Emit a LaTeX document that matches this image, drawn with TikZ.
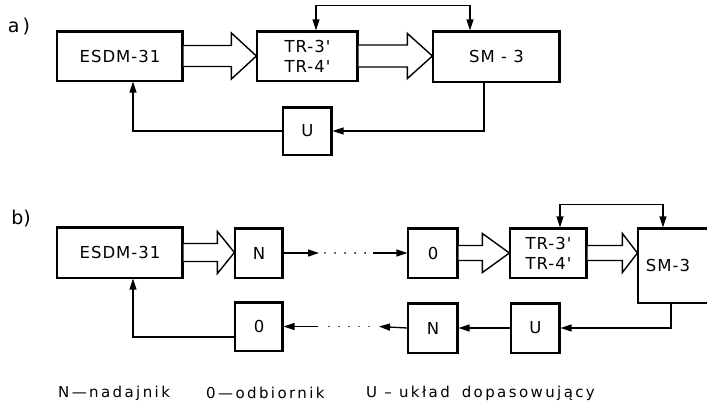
\documentclass[tikz,border=0pt]{standalone}
\usepackage{fontspec}
\setmainfont{DejaVu Sans}
\newfontfamily\boxfont[LetterSpace=6]{DejaVu Sans}
\newfontfamily\legfont[LetterSpace=16]{DejaVu Sans}
\usetikzlibrary{arrows.meta,calc}

\tikzset{
  blk/.style={draw, line width=1.2pt, fill=white, inner sep=0pt, align=center,
    font=\boxfont\fontsize{16.5}{20}\selectfont,
    path picture={\draw[line width=4.2pt]
      (path picture bounding box.north west) -- (path picture bounding box.north east)
      -- (path picture bounding box.south east);}},
  tip/.tip={Triangle[length=11pt,width=7pt]},
  link/.style={line width=1.3pt, -tip},
  twoway/.style={line width=1.3pt, tip-tip},
  dots/.style={line width=1.9pt, line cap=round, dash pattern=on 0.01pt off 10pt},
  bus/.style={line width=1.4pt, fill=white, line join=miter},
  legend/.style={inner sep=0pt, anchor=west, font=\legfont\fontsize{15}{17}\selectfont},
  tag/.style={inner sep=0pt, font=\fontsize{19}{22}\selectfont},
}

% wide (bus) arrow: from, to, shaft half-height, head half-height, head length
\newcommand\busarrow[5]{%
  \draw[bus] let \p1=(#1.east), \p2=(#2.west) in
    (\x1,\y1+#3) -- (\x2-#5,\y1+#3) -- (\x2-#5,\y1+#4) -- (\x2,\y1)
    -- (\x2-#5,\y1-#4) -- (\x2-#5,\y1-#3) -- (\x1,\y1-#3);}

\begin{document}
\begin{tikzpicture}[x=1pt,y=-1pt]
\clip (0,0) rectangle (707,407);
\fill[white] (0,0) rectangle (707,407);

% ---------------- a) ----------------
\node[tag] (la) at (19,27) {a\,)};
\node[blk, minimum width=126, minimum height=50] (esdmA) at (120,56) {ESDM-31};
\node[blk, minimum width=101, minimum height=50] (trA) at (307.5,56) {TR-3'\\TR-4'};
\node[blk, minimum width=127, minimum height=51] (smA) at (496.5,56.5) {SM - 3};
\node[blk, minimum width=49, minimum height=48] (uA) at (307.5,131) {U};

\busarrow{esdmA}{trA}{10.5}{23}{25}
\busarrow{trA}{smA}{11}{22.5}{25}

\draw[twoway] ($(trA.north)+(8.5,0)$) -- ++(0,-25) -| ($(smA.north)+(-26.5,0)$);
\draw[link] ($(smA.south)+(-12.5,0)$) |- (uA.east);
\draw[link] (uA.west) -| ($(esdmA.south)+(13,0)$);

% ---------------- b) ----------------
\node[tag] (lb) at (21,219) {b)};
\node[blk, minimum width=126, minimum height=51] (esdmB) at (120,252.5) {ESDM-31};
\node[blk, minimum width=48, minimum height=50] (nB1) at (259,253) {N};
\node[blk, minimum width=50, minimum height=50] (oB1) at (433,253) {0};
\node[blk, minimum width=77, minimum height=50] (trB) at (548.5,253) {TR-3'\\TR-4'};
\node[blk, minimum width=82, minimum height=75] (smB) at (679,265.5) {\hspace*{-22pt}SM-3};
\node[blk, minimum width=49, minimum height=50] (uB) at (535.5,328) {U};
\node[blk, minimum width=50, minimum height=50] (nB2) at (433,328) {N};
\node[blk, minimum width=48, minimum height=49] (oB2) at (259,326.5) {0};

\busarrow{esdmB}{nB1}{9}{21}{17}
\busarrow{oB1}{trB}{7.5}{19.5}{27}
\busarrow{trB}{smB}{7.5}{19.5}{15}

\draw[twoway] ($(trB.north)+(11.5,0)$) -- ++(0,-23) -| ($(smB.north)+(-16,0)$);
\draw[link] ($(smB.south)+(-8,0)$) |- (uB.east);
\draw[link] (uB.west) -- (nB2.east);

% link through the transmission path, upper row
\coordinate (t1) at (319,253);
\coordinate (t2) at (373,253);
\draw[link] (nB1.east) -- (t1);
\draw[dots] (325,253) -- (368,253);
\draw[link] (t2) -- (oB1.west);

% lower row
\coordinate (b1) at (379,326.5);
\coordinate (b2) at (318,326.5);
\draw[link] (nB2.west) -- (b1);
\draw[dots] (369,326.5) -- (324,326.5);
\draw[link] (b2) -- (oB2.east);

\draw[link] ($(oB2.west)+(0,10.5)$) -| ($(esdmB.south)+(13,0)$);

% legend
\node[legend] (lgN) at (58,393) {N—nadajnik};
\node[legend] (lgO) at (206,393) {0—odbiornik};
\node[legend] (lgU) at (366,393) {U – układ\hspace{0.8em}dopasowujący};
\end{tikzpicture}
\end{document}
